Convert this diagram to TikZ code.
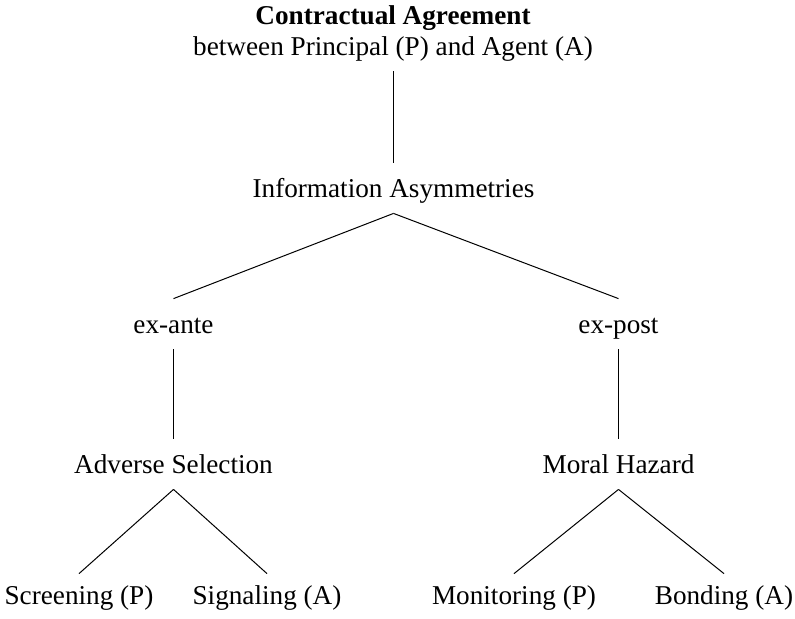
\documentclass[tikz,border=0pt]{standalone}
\usepackage{fontspec}
\setmainfont{Liberation Serif}
\begin{document}
\begin{tikzpicture}[x=0.5pt,y=-0.5pt,
  lbl/.style={inner sep=0pt, anchor=base, text height=17pt, text depth=8pt,
              font=\fontsize{13.6}{16}\selectfont},
  leaf/.style={lbl, text height=15pt},
  branch/.style={line width=0.5pt, black}]
\useasboundingbox (0,0) rectangle (795,618);

% heading
\node[lbl] (title) at (393,24) {\bfseries Contractual Agreement};
\node[lbl] (sub)   at (393,55) {between Principal (P) and Agent (A)};

% levels of the tree
\node[lbl] (info)    at (393.5,197) {Information Asymmetries};
\node[lbl] (exante)  at (173.5,333) {ex-ante};
\node[lbl] (expost)  at (618.5,333) {ex-post};
\node[lbl] (adverse) at (173.5,473) {Adverse Selection};
\node[lbl] (moral)   at (618.5,473) {Moral Hazard};

\node[leaf] (screen)  at (79,604)  {Screening (P)};
\node[leaf] (signal)  at (267,604) {Signaling (A)};
\node[leaf] (monitor) at (514,604) {Monitoring (P)};
\node[leaf] (bond)    at (724,604) {Bonding (A)};

% connectors
\draw[branch] (sub.south) -- (sub.south |- info.north);
\draw[branch] (info.south) -- (exante.north);
\draw[branch] (info.south) -- (expost.north);
\draw[branch] (exante.south) -- (adverse.north);
\draw[branch] (expost.south) -- (moral.north);
\draw[branch] (adverse.south) -- (screen.north);
\draw[branch] (adverse.south) -- (signal.north);
\draw[branch] (moral.south) -- (monitor.north);
\draw[branch] (moral.south) -- (bond.north);
\end{tikzpicture}
\end{document}
